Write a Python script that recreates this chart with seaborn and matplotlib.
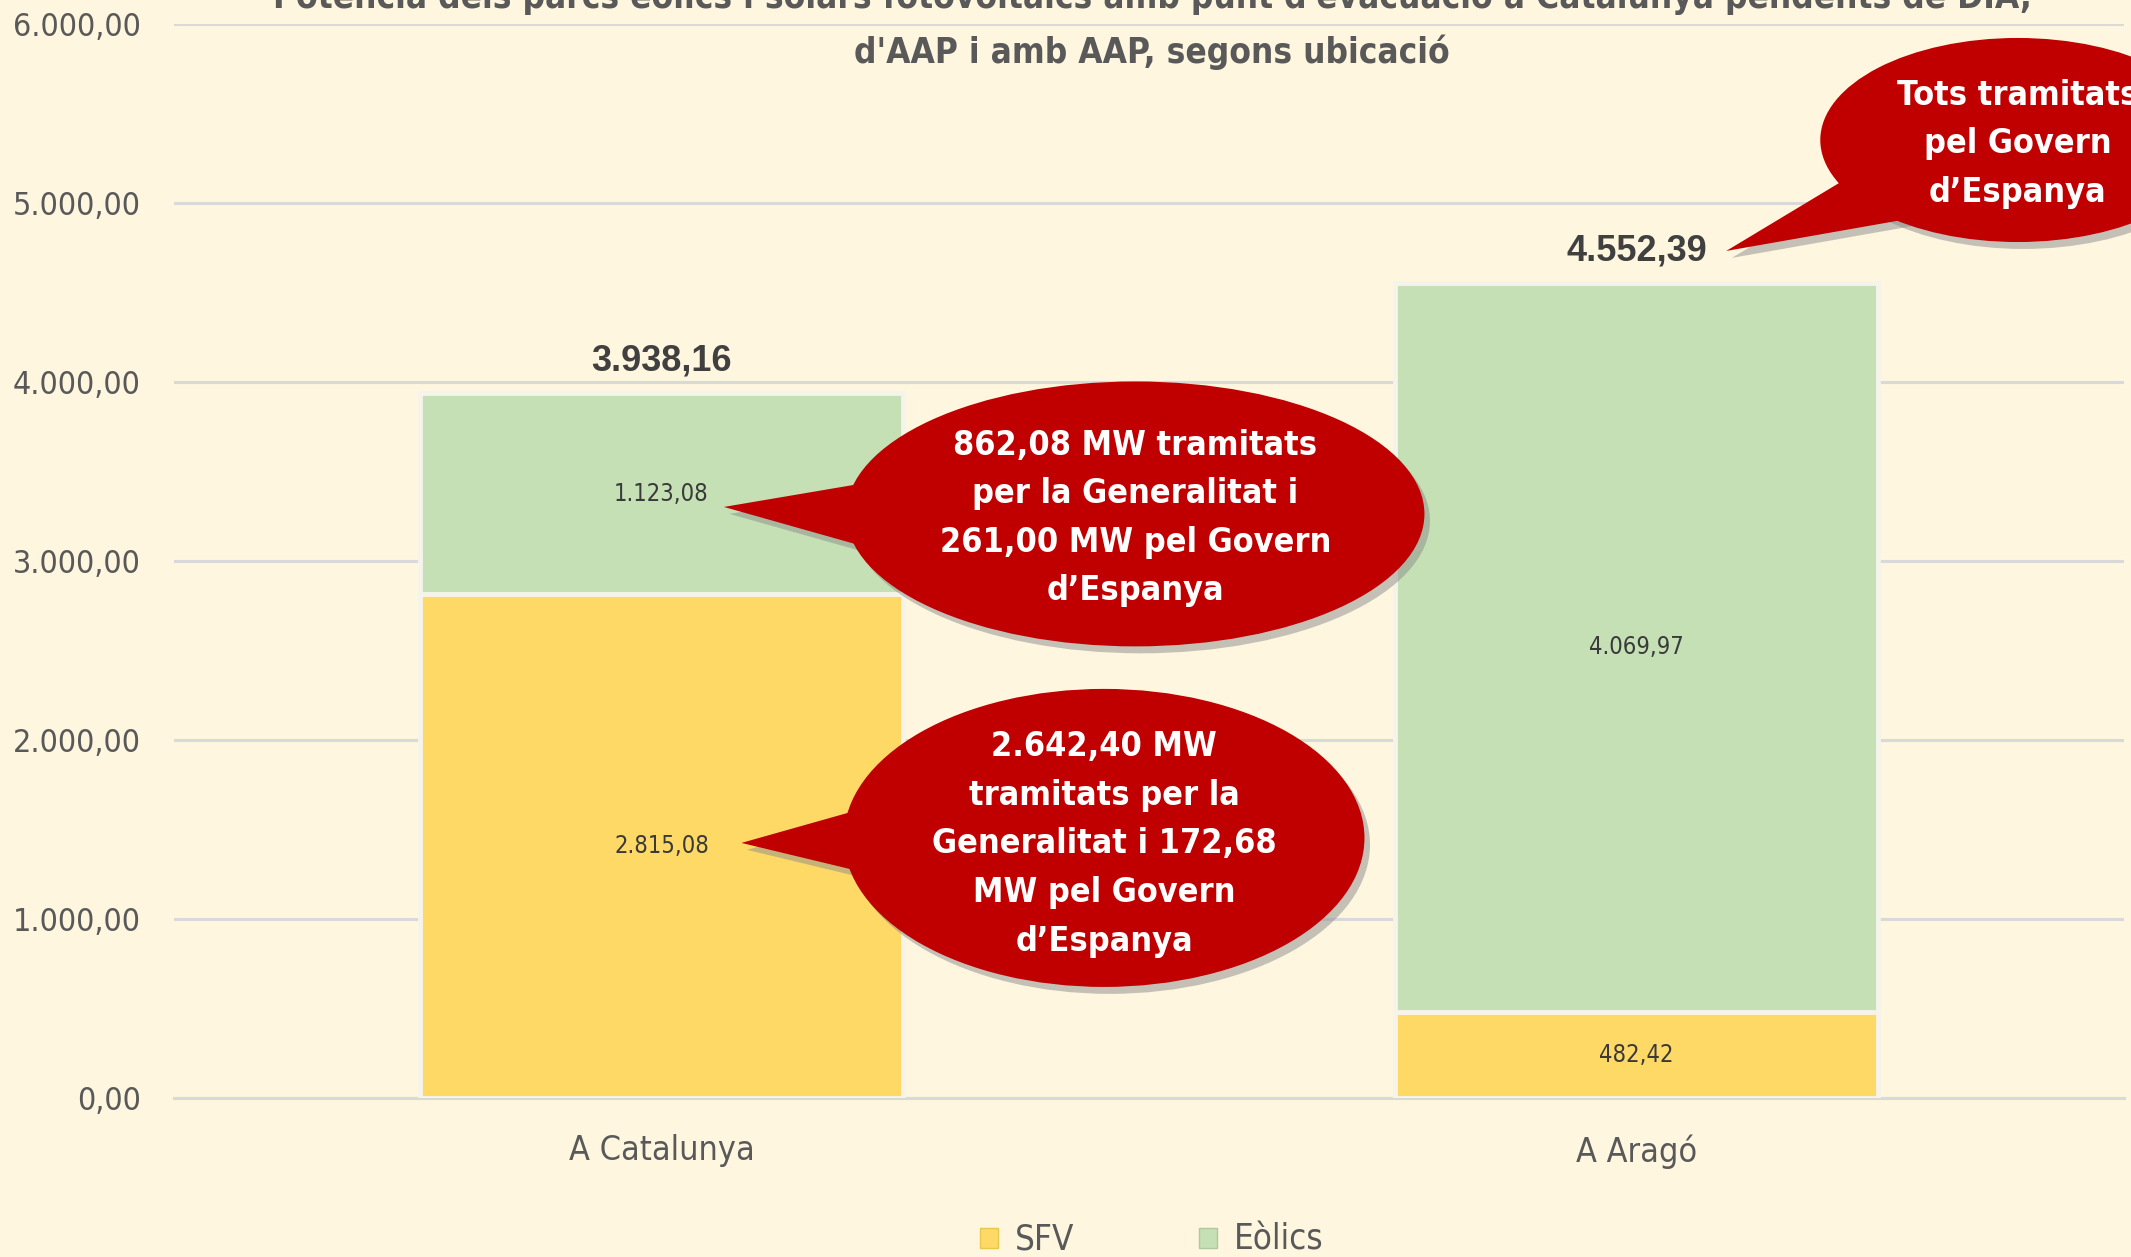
import numpy as np
import pandas as pd
import matplotlib
matplotlib.use('Agg')
import matplotlib.pyplot as plt
import seaborn as sns
from matplotlib.patches import Ellipse, Polygon, Patch
from matplotlib.transforms import ScaledTranslation
from matplotlib.ticker import FuncFormatter, FixedLocator

# Dades
ubicacio = ['A Catalunya', 'A Aragó']
sfv = [2815.08, 482.42]
eolics = [1123.08, 4069.97]
yticks = [0, 1000, 2000, 3000, 4000, 5000, 6000]

titol_1 = "Potència dels parcs eòlics i solars fotovoltaics amb punt d'evacuació a Catalunya pendents de DIA,"
titol_2 = "d'AAP i amb AAP, segons ubicació"

callout_texts = [
    "862,08 MW tramitats\nper la Generalitat i\n261,00 MW pel Govern\nd\u2019Espanya",
    "2.642,40 MW\ntramitats per la\nGeneralitat i 172,68\nMW pel Govern\nd\u2019Espanya",
    "Tots tramitats\npel Govern\nd\u2019Espanya",
]

# Colors
bg = '#FEF6DF'
groc = '#FFD966'
verd = '#C5E0B4'
vermell = '#C00000'
gris = '#595959'

normal = 'Liberation Sans'

sns.set_theme(style='white')
plt.rcParams['font.family'] = ['DejaVu Sans']
plt.rcParams['font.stretch'] = 'condensed'


def fmt_ca(v, decimals=2):
    s = f"{v:,.{decimals}f}"
    return s.replace(',', 'X').replace('.', ',').replace('X', '.')


df = pd.DataFrame({'ubicacio': ubicacio, 'SFV': sfv, 'Eolics': eolics})
df['total'] = df['SFV'] + df['Eolics']

fig = plt.figure(figsize=(21.31, 12.57), dpi=100, facecolor=bg)
ax = fig.add_axes([174 / 2131, 1 - 1098 / 1257, (2124 - 174) / 2131, (1098 - 24) / 1257])
ax.set_facecolor(bg)

# barres apilades: total en verd, SFV en groc a sobre
sns.barplot(data=df, x='ubicacio', y='total', color=verd, saturation=1, width=0.495,
            edgecolor='#F6F3EA', linewidth=3.5, ax=ax, zorder=3)
sns.barplot(data=df, x='ubicacio', y='SFV', color=groc, saturation=1, width=0.495,
            edgecolor='#F6F3EA', linewidth=3.5, ax=ax, zorder=3)

ax.set_xlim(-0.5, 1.5)
ax.set_ylim(0, 6000)
ax.yaxis.set_major_locator(FixedLocator(yticks))
ax.yaxis.set_major_formatter(FuncFormatter(lambda v, p: fmt_ca(v)))
ax.grid(axis='y', color='#D9D9D9', linewidth=2.2, zorder=0)
ax.grid(axis='x', visible=False)
for s in ['top', 'right', 'left']:
    ax.spines[s].set_visible(False)
ax.spines['bottom'].set_color('#D9D9D9')
ax.spines['bottom'].set_linewidth(2.2)
ax.tick_params(axis='y', length=0, pad=24, labelsize=23, labelcolor=gris)
ax.tick_params(axis='x', length=0, pad=26, labelsize=24.5, labelcolor=gris)
ax.xaxis.set_minor_locator(FixedLocator([-0.5, 0.5, 1.5]))
ax.tick_params(axis='x', which='minor', length=8, width=2, color='#D9D9D9')
ax.set_xlabel('')
ax.set_ylabel('')

# etiquetes
for i, row in df.iterrows():
    ax.text(i, row['total'] + 180, fmt_ca(row['total']), ha='center', va='center',
            fontsize=26, fontweight='bold', color='#404040', family=normal, stretch='normal', zorder=6)
    ax.text(i, row['SFV'] / 2, fmt_ca(row['SFV']), ha='center', va='center',
            fontsize=17, color='#3A3A3A', zorder=6)
    ax.text(i, row['SFV'] + row['Eolics'] / 2, fmt_ca(row['Eolics']), ha='center', va='center',
            fontsize=17, color='#3A3A3A', zorder=6)

# titol
fig.text(1152 / 2131, 1 + 3 / 1257, titol_1, ha='center', va='center', fontsize=25.2,
         fontweight='bold', color=gris, bbox=dict(fc=bg, ec='none', pad=4))
fig.text(1152 / 2131, 1 - 52 / 1257, titol_2, ha='center', va='center', fontsize=25.2,
         fontweight='bold', color=gris)

# llegenda
handles = [Patch(facecolor=groc, edgecolor='#E8C84A', label='SFV'),
           Patch(facecolor=verd, edgecolor='#B0C8A0', label='Eòlics')]
leg = fig.legend(handles=handles, loc='center', bbox_to_anchor=(1152 / 2131, 1 - 1240 / 1257),
                 ncol=2, frameon=False, fontsize=25, handlelength=0.5, handleheight=0.5,
                 handletextpad=0.5, columnspacing=3.6, labelcolor=gris)


# bombolles
shadow = ax.transData + ScaledTranslation(4 / 72, -5 / 72, fig.dpi_scale_trans)


def bombolla(cx, cy, w, h, tip, a1, a2, text, tx, ty):
    p1 = (cx + 0.42 * w * np.cos(np.radians(a1)), cy + 0.42 * h * np.sin(np.radians(a1)))
    p2 = (cx + 0.42 * w * np.cos(np.radians(a2)), cy + 0.42 * h * np.sin(np.radians(a2)))
    for tr, col, z, al in [(shadow, '#8C8C8C', 7, 0.5), (ax.transData, vermell, 8, 1)]:
        ax.add_patch(Polygon([tip, p1, p2], closed=True, fc=col, ec='none', alpha=al,
                             transform=tr, clip_on=False, zorder=z))
        ax.add_patch(Ellipse((cx, cy), w, h, fc=col, ec='none', alpha=al,
                             transform=tr, clip_on=False, zorder=z))
    ax.text(tx, ty, text, ha='center', va='center', color='white', fontsize=24.5,
            fontweight='bold', linespacing=1.6, zorder=9, clip_on=False)


bombolla(0.486, 3263, 0.593, 1480, (0.064, 3302), 160, 205, callout_texts[0], 0.486, 3240)
bombolla(0.454, 1453, 0.534, 1665, (0.082, 1425), 162, 200, callout_texts[1], 0.454, 1420)
bombolla(1.391, 5352, 0.405, 1140, (1.092, 4732), 200, 240, callout_texts[2], 1.391, 5330)

fig.savefig('out.png', dpi=100, facecolor=bg)
